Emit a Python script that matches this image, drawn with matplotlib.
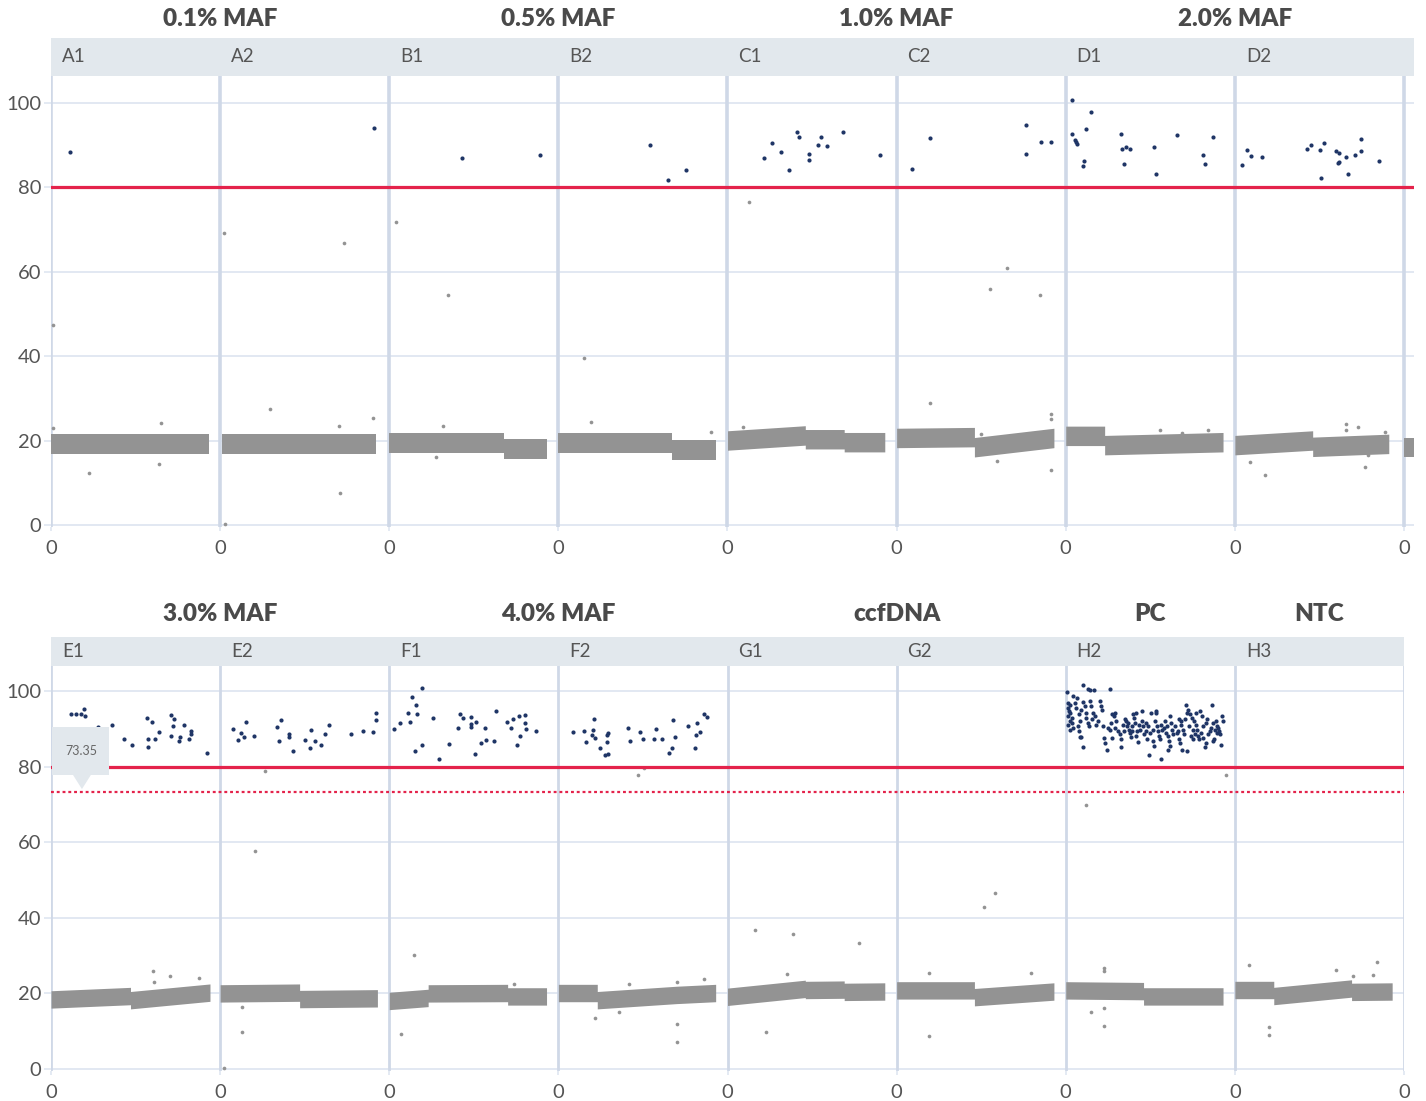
import matplotlib
matplotlib.use("Agg")
import matplotlib.pyplot as plt
from matplotlib.patches import Rectangle, Polygon

plt.rcParams["font.family"] = ["Lato", "DejaVu Sans"]

# ---------------- wells and groups ----------------
top_wells = ["A1", "A2", "B1", "B2", "C1", "C2", "D1", "D2"]
bottom_wells = ["E1", "E2", "F1", "F2", "G1", "G2", "H2", "H3"]

top_groups = ["0.1% MAF", "0.5% MAF", "1.0% MAF", "2.0% MAF"]
top_group_wells = [["A1", "A2"], ["B1", "B2"], ["C1", "C2"], ["D1", "D2"]]
bottom_groups = ["3.0% MAF", "4.0% MAF", "ccfDNA", "PC", "NTC"]
bottom_group_wells = [["E1", "E2"], ["F1", "F2"], ["G1", "G2"], ["H2"], ["H3"]]

threshold = 80
marker_value = 73.35
y_ticks = [0, 20, 40, 60, 80, 100]

# ---------------- positive droplets (position within well, amplitude) ----------------
pos_A1 = [(0.112, 88.3)]
pos_A2 = [(0.911, 94.0)]
pos_B1 = [(0.430, 86.9), (0.893, 87.6)]
pos_B2 = [(0.540, 89.9), (0.650, 81.7), (0.757, 84.0)]
pos_C1 = [(0.215, 86.9), (0.264, 90.3), (0.314, 88.4), (0.361, 84.0), (0.410, 92.9),
          (0.420, 91.8), (0.479, 87.8), (0.479, 86.3), (0.536, 89.9), (0.550, 91.8),
          (0.586, 89.8), (0.682, 92.9), (0.901, 87.6)]
pos_C2 = [(0.090, 84.2), (0.195, 91.5), (0.763, 94.7), (0.763, 87.7), (0.856, 90.6),
          (0.915, 90.7)]
pos_D1 = [(0.037, 100.7), (0.150, 97.7), (0.036, 92.5), (0.117, 93.7), (0.057, 91.1),
          (0.063, 90.6), (0.067, 90.2), (0.108, 86.1), (0.102, 85.0), (0.324, 92.6),
          (0.333, 89.1), (0.359, 89.4), (0.379, 88.9), (0.347, 85.4), (0.522, 89.5),
          (0.534, 83.0), (0.657, 92.3), (0.811, 87.5), (0.826, 85.5), (0.872, 91.9)]
pos_D2 = [(0.041, 85.2), (0.071, 88.8), (0.093, 87.3), (0.160, 87.1), (0.428, 89.1),
          (0.450, 89.9), (0.503, 88.8), (0.528, 90.3), (0.509, 82.1), (0.600, 88.5),
          (0.613, 88.0), (0.611, 85.6), (0.617, 85.8), (0.657, 87.2), (0.667, 83.0),
          (0.712, 87.6), (0.744, 91.4), (0.744, 88.6), (0.850, 86.2)]

pos_E1 = [(0.116, 94.0), (0.146, 94.0), (0.178, 94.0), (0.197, 95.3), (0.203, 93.5),
          (0.276, 90.4), (0.359, 90.9), (0.430, 87.4), (0.477, 85.7), (0.568, 92.9),
          (0.600, 91.7), (0.572, 87.2), (0.572, 85.2), (0.617, 87.2), (0.641, 89.2),
          (0.712, 93.7), (0.728, 92.5), (0.724, 90.7), (0.712, 88.0), (0.765, 87.7),
          (0.755, 86.7), (0.789, 90.9), (0.817, 87.4), (0.827, 89.3), (0.828, 88.7),
          (0.921, 83.5)]
pos_E2 = [(0.077, 90.0), (0.107, 87.1), (0.122, 88.9), (0.140, 87.9), (0.152, 91.7),
          (0.200, 88.1), (0.335, 90.6), (0.359, 92.4), (0.347, 86.7), (0.406, 88.7),
          (0.406, 87.8), (0.428, 84.2), (0.501, 87.1), (0.531, 85.0), (0.540, 89.7),
          (0.560, 86.9), (0.596, 85.6), (0.623, 88.5), (0.641, 91.1), (0.771, 88.6),
          (0.842, 89.5), (0.901, 89.1), (0.921, 94.1), (0.921, 92.3)]
pos_F1 = [(0.030, 90.0), (0.065, 91.6), (0.108, 94.2), (0.132, 98.3), (0.158, 96.2),
          (0.167, 94.0), (0.193, 100.8), (0.122, 91.9), (0.152, 84.2), (0.193, 85.6),
          (0.260, 92.8), (0.296, 82.1), (0.355, 86.1), (0.404, 90.2), (0.416, 93.8),
          (0.438, 92.8), (0.481, 93.2), (0.483, 91.3), (0.481, 90.5), (0.513, 91.9),
          (0.509, 83.4), (0.542, 86.3), (0.566, 90.1), (0.574, 87.1), (0.621, 86.8),
          (0.631, 94.7), (0.698, 91.7), (0.718, 90.2), (0.730, 92.6), (0.765, 93.5),
          (0.800, 93.6), (0.800, 91.5), (0.810, 89.9), (0.771, 88.2), (0.757, 85.6),
          (0.866, 89.4)]
pos_F2 = [(0.085, 89.1), (0.150, 89.5), (0.164, 86.4), (0.199, 88.4), (0.205, 89.6),
          (0.209, 92.6), (0.217, 87.6), (0.247, 84.9), (0.274, 83.1), (0.294, 83.4),
          (0.288, 88.4), (0.294, 88.9), (0.290, 86.6), (0.412, 90.3), (0.422, 86.9),
          (0.481, 89.1), (0.501, 87.2), (0.564, 87.2), (0.576, 89.9), (0.615, 87.4),
          (0.655, 83.5), (0.669, 84.9), (0.680, 92.4), (0.688, 87.8), (0.765, 90.7),
          (0.807, 84.9), (0.811, 88.4), (0.818, 91.6), (0.836, 89.2), (0.862, 94.0),
          (0.877, 93.2)]
pos_G1 = []
pos_G2 = []
pos_H2 = [(0.008, 99.8), (0.016, 96.9), (0.012, 95.5), (0.024, 96.4), (0.020, 94.7),
          (0.028, 94.2), (0.014, 93.3), (0.034, 92.9), (0.024, 92.0), (0.014, 91.1),
          (0.036, 91.6), (0.043, 90.2), (0.028, 89.8), (0.043, 98.8), (0.053, 96.9),
          (0.063, 95.5), (0.067, 98.2), (0.079, 93.8), (0.083, 92.0), (0.073, 90.7),
          (0.079, 89.4), (0.083, 87.9), (0.093, 87.9), (0.103, 85.2), (0.093, 95.1),
          (0.103, 97.0), (0.112, 96.0), (0.118, 94.2), (0.122, 92.9), (0.132, 91.6),
          (0.138, 90.7), (0.103, 101.7), (0.134, 100.6), (0.142, 100.2), (0.168, 100.2),
          (0.142, 97.3), (0.152, 96.0), (0.162, 94.2), (0.158, 92.5), (0.172, 93.3),
          (0.181, 91.1), (0.191, 92.0), (0.201, 97.3), (0.211, 96.0), (0.217, 95.1),
          (0.221, 90.7), (0.260, 100.6), (0.227, 87.6), (0.231, 86.3), (0.241, 84.3),
          (0.250, 90.2), (0.260, 89.8), (0.270, 91.6), (0.276, 93.8), (0.284, 93.3),
          (0.290, 94.2), (0.276, 87.6), (0.290, 90.2), (0.300, 92.0), (0.310, 89.4),
          (0.320, 88.5), (0.325, 85.2), (0.329, 87.2), (0.339, 91.1), (0.343, 89.4),
          (0.349, 92.5), (0.355, 92.0), (0.363, 90.7), (0.369, 91.6), (0.375, 89.8),
          (0.379, 88.9), (0.383, 87.9), (0.389, 89.4), (0.394, 90.7), (0.398, 93.8),
          (0.404, 92.9), (0.408, 91.6), (0.414, 94.2), (0.418, 88.0), (0.422, 89.4),
          (0.428, 86.4), (0.434, 91.1), (0.438, 89.6), (0.448, 94.7), (0.450, 92.0),
          (0.458, 90.7), (0.462, 88.5), (0.473, 91.6), (0.477, 89.4), (0.481, 87.3),
          (0.487, 90.7), (0.493, 83.2), (0.497, 88.9), (0.507, 94.2), (0.513, 89.8),
          (0.517, 86.7), (0.521, 85.4), (0.527, 92.0), (0.533, 94.2), (0.536, 94.6),
          (0.540, 90.7), (0.546, 89.4), (0.552, 88.0), (0.556, 87.2), (0.562, 82.0),
          (0.566, 91.1), (0.572, 89.8), (0.580, 90.2), (0.586, 92.0), (0.592, 88.9),
          (0.596, 90.7), (0.602, 88.0), (0.607, 84.5), (0.611, 86.7), (0.615, 93.3),
          (0.619, 85.4), (0.625, 91.6), (0.631, 89.6), (0.635, 88.5), (0.645, 90.7),
          (0.655, 88.9), (0.661, 89.4), (0.667, 92.5), (0.671, 87.2), (0.675, 86.3),
          (0.679, 91.1), (0.684, 92.0), (0.690, 84.5), (0.694, 89.8), (0.698, 88.5),
          (0.704, 92.5), (0.710, 96.4), (0.714, 94.2), (0.718, 84.1), (0.724, 95.1),
          (0.730, 90.7), (0.734, 93.8), (0.738, 88.0), (0.744, 92.9), (0.750, 89.8),
          (0.753, 87.2), (0.757, 92.0), (0.763, 88.5), (0.769, 94.2), (0.773, 91.1),
          (0.777, 89.8), (0.783, 88.0), (0.789, 87.2), (0.793, 94.7), (0.797, 88.9),
          (0.803, 93.3), (0.809, 87.6), (0.813, 90.7), (0.822, 85.2), (0.828, 86.3),
          (0.832, 91.6), (0.838, 92.5), (0.844, 88.5), (0.852, 89.4), (0.858, 90.2),
          (0.864, 96.4), (0.868, 86.7), (0.872, 91.6), (0.876, 87.2), (0.882, 89.8),
          (0.888, 92.0), (0.892, 88.9), (0.897, 90.7), (0.901, 90.2), (0.907, 89.4),
          (0.911, 88.5), (0.917, 85.8), (0.923, 93.3), (0.927, 92.0)]
pos_H3 = []

# ---------------- scattered negative / rain droplets ----------------
out_A1 = [(0.012, 47.3), (0.014, 22.9), (0.227, 12.4), (0.650, 24.1), (0.636, 14.4)]
out_A2 = [(0.024, 69.1), (0.734, 66.7), (0.296, 27.5), (0.706, 7.6), (0.700, 23.5),
          (0.902, 25.3), (0.030, 0.2)]
out_B1 = [(0.040, 71.7), (0.350, 54.4), (0.315, 23.5), (0.276, 16.0)]
out_B2 = [(0.154, 39.5), (0.190, 24.4), (0.900, 22.1)]
out_C1 = [(0.126, 76.5), (0.090, 23.1)]
out_C2 = [(0.195, 28.9), (0.550, 55.9), (0.650, 60.8), (0.846, 54.4), (0.910, 26.2),
          (0.910, 25.1), (0.910, 13.0), (0.496, 21.5), (0.596, 15.2)]
out_D1 = [(0.560, 22.5), (0.690, 21.7), (0.840, 22.6)]
out_D2 = [(0.090, 15.0), (0.178, 11.8), (0.660, 23.8), (0.660, 22.5), (0.730, 23.1),
          (0.770, 13.8), (0.790, 16.6), (0.890, 21.9)]

out_E1 = [(0.603, 26.0), (0.610, 22.9), (0.706, 24.6), (0.877, 24.2)]
out_E2 = [(0.266, 78.9), (0.207, 57.7), (0.128, 9.9), (0.128, 16.5), (0.020, 0.3)]
out_F1 = [(0.146, 30.2), (0.067, 9.3), (0.740, 22.4)]
out_F2 = [(0.469, 77.8), (0.509, 79.7), (0.219, 13.6), (0.418, 22.4), (0.703, 11.8),
          (0.703, 7.2), (0.700, 23.0), (0.860, 23.8), (0.360, 15.0)]
out_G1 = [(0.227, 9.7), (0.351, 25.1), (0.775, 33.4), (0.160, 36.8), (0.390, 35.8)]
out_G2 = [(0.191, 8.6), (0.514, 42.9), (0.580, 46.6), (0.795, 25.3), (0.190, 25.4)]
out_H2 = [(0.118, 69.9), (0.947, 77.9), (0.227, 26.7), (0.227, 25.8), (0.227, 16.1),
          (0.227, 11.5), (0.151, 15.2)]
out_H3 = [(0.082, 27.5), (0.200, 11.2), (0.200, 9.0), (0.597, 26.2), (0.700, 24.6),
          (0.816, 25.0), (0.838, 28.4)]

# ---------------- negative cluster centre line (position within well, amplitude) ----------------
neg_A1 = [(0.00, 19.2), (0.935, 19.2)]
neg_A2 = [(0.01, 19.2), (0.92, 19.2)]
neg_B1 = [(0.00, 19.4), (0.68, 19.4), (0.68, 18.0), (0.93, 18.0)]
neg_B2 = [(0.00, 19.4), (0.67, 19.4), (0.67, 17.8), (0.93, 17.8)]
neg_C1 = [(0.00, 20.0), (0.46, 21.2), (0.46, 20.3), (0.69, 20.3), (0.69, 19.6), (0.93, 19.6)]
neg_C2 = [(0.00, 20.6), (0.46, 20.8), (0.46, 18.4), (0.93, 20.6)]
neg_D1 = [(0.00, 21.1), (0.23, 21.1), (0.23, 18.9), (0.93, 19.6)]
neg_D2 = [(0.00, 18.9), (0.46, 20.0), (0.46, 18.5), (0.91, 19.2)]
neg_next = [(0.00, 18.3), (0.06, 18.3)]

neg_E1 = [(0.00, 18.4), (0.47, 19.3), (0.47, 18.2), (0.94, 20.2)]
neg_E2 = [(0.00, 20.0), (0.47, 20.2), (0.47, 18.5), (0.93, 18.7)]
neg_F1 = [(0.00, 18.0), (0.23, 18.8), (0.23, 20.0), (0.70, 20.1), (0.70, 19.2), (0.93, 19.2)]
neg_F2 = [(0.00, 20.1), (0.23, 20.1), (0.23, 18.2), (0.70, 19.6), (0.93, 20.1)]
neg_G1 = [(0.00, 19.1), (0.46, 21.2), (0.46, 20.9), (0.69, 21.0), (0.69, 20.4), (0.93, 20.5)]
neg_G2 = [(0.00, 20.8), (0.46, 20.8), (0.46, 19.0), (0.93, 20.5)]
neg_H2 = [(0.00, 20.8), (0.46, 20.6), (0.46, 19.2), (0.93, 19.2)]
neg_H3 = [(0.00, 20.9), (0.23, 20.9), (0.23, 19.3), (0.69, 21.3), (0.69, 20.4), (0.93, 20.5)]

positives = {"A1": pos_A1, "A2": pos_A2, "B1": pos_B1, "B2": pos_B2, "C1": pos_C1,
             "C2": pos_C2, "D1": pos_D1, "D2": pos_D2, "E1": pos_E1, "E2": pos_E2,
             "F1": pos_F1, "F2": pos_F2, "G1": pos_G1, "G2": pos_G2, "H2": pos_H2,
             "H3": pos_H3}
rain = {"A1": out_A1, "A2": out_A2, "B1": out_B1, "B2": out_B2, "C1": out_C1,
        "C2": out_C2, "D1": out_D1, "D2": out_D2, "E1": out_E1, "E2": out_E2,
        "F1": out_F1, "F2": out_F2, "G1": out_G1, "G2": out_G2, "H2": out_H2,
        "H3": out_H3}
negatives = {"A1": neg_A1, "A2": neg_A2, "B1": neg_B1, "B2": neg_B2, "C1": neg_C1,
             "C2": neg_C2, "D1": neg_D1, "D2": neg_D2, "E1": neg_E1, "E2": neg_E2,
             "F1": neg_F1, "F2": neg_F2, "G1": neg_G1, "G2": neg_G2, "H2": neg_H2,
             "H3": neg_H3}

# ---------------- styling ----------------
NAVY = "#1f3566"
GREY = "#939393"
RED = "#e4234b"
GRID = "#dfe6f1"
VLINE = "#cfd8e7"
HEADER = "#e2e8ed"
TEXT = "#4a4a4a"
TICK = "#555555"
CORE_HALF = 2.3

W, H = 1426, 1101
fig = plt.figure(figsize=(W / 100, H / 100), dpi=100)


def fx(px):
    return px / W


def fy(py):
    return 1 - py / H


def draw_band(ax, nodes, offset):
    xs = [offset + f for f, _ in nodes]
    lo = [v - CORE_HALF for _, v in nodes]
    hi = [v + CORE_HALF for _, v in nodes]
    ax.fill_between(xs, lo, hi, color=GREY, lw=0, zorder=2)


def build_panel(left_px, right_px, head_top, head_bot, ax_bot, ylim, xmax,
                wells, groups, group_wells, title_y, vline_w):
    # header strip with well names
    hax = fig.add_axes([fx(left_px), fy(head_bot), fx(right_px - left_px),
                        (head_bot - head_top) / H])
    hax.set_xlim(0, xmax)
    hax.set_ylim(0, 1)
    hax.set_facecolor(HEADER)
    hax.set_xticks([])
    hax.set_yticks([])
    for s in hax.spines.values():
        s.set_visible(False)
    for i, w in enumerate(wells):
        hax.text(i + 0.065, 0.5, w, ha="left", va="center", fontsize=13.5,
                 color=TICK)

    # group titles
    for g, gw in zip(groups, group_wells):
        idx = [wells.index(w) for w in gw]
        centre = (min(idx) + max(idx) + 1) / 2
        xfig = fx(left_px) + centre / xmax * fx(right_px - left_px)
        fig.text(xfig, fy(title_y), g, ha="center", va="center",
                 fontsize=17.5, fontweight="heavy", color=TEXT)

    ax = fig.add_axes([fx(left_px), fy(ax_bot), fx(right_px - left_px),
                       (ax_bot - head_bot) / H])
    ax.set_xlim(0, xmax)
    ax.set_ylim(*ylim)
    for s in ax.spines.values():
        s.set_visible(False)
    for y in y_ticks:
        ax.axhline(y, color=GRID, lw=1.3, zorder=0)
    for i in range(len(wells) + 1):
        ax.axvline(i, color=VLINE, lw=vline_w, zorder=1)

    for i, w in enumerate(wells):
        draw_band(ax, negatives[w], i)
        r = rain[w]
        if r:
            ax.scatter([i + f for f, _ in r], [v for _, v in r], s=7,
                       color=GREY, lw=0, zorder=3)
        p = positives[w]
        if p:
            ax.scatter([i + f for f, _ in p], [v for _, v in p], s=9,
                       color=NAVY, lw=0, zorder=4)

    ax.axhline(threshold, color=RED, lw=2.3, zorder=5)

    ax.set_yticks(y_ticks)
    ax.set_yticklabels([str(t) for t in y_ticks])
    ax.set_xticks(range(len(wells) + 1))
    ax.set_xticklabels(["0"] * (len(wells) + 1))
    ax.tick_params(axis="y", length=5, width=1.2, color=GRID, pad=2,
                   labelsize=14.5, labelcolor=TICK)
    ax.tick_params(axis="x", length=3, width=1.2, color=GRID, pad=6,
                   labelsize=14.5, labelcolor=TICK)
    return ax


# top panel: A1..D2
top_scale = (525 - 102.5) / 100.0
top_ylim = (-(527 - 525) / top_scale, (525 - 76) / top_scale)
top_xmax = 8 + (1414 - 1404) / 169.1
ax_top = build_panel(51, 1414, 38, 76, 527, top_ylim, top_xmax, top_wells,
                     top_groups, top_group_wells, 19, 2.6)
draw_band(ax_top, neg_next, 8)

# bottom panel: E1..H3
bot_scale = (1069 - 691) / 100.0
bot_ylim = (-(1071 - 1069) / bot_scale, (1069 - 666) / bot_scale)
ax_bot = build_panel(51, 1404, 637, 666, 1071, bot_ylim, 8.0, bottom_wells,
                     bottom_groups, bottom_group_wells, 614, 2.0)

# manual threshold marker with its tooltip
ax_bot.axhline(marker_value, color=RED, lw=1.6, linestyle=(0, (1.3, 1.3)),
               zorder=5)
box_lo, box_hi = 77.8, 90.4
ax_bot.add_patch(Rectangle((0.006, box_lo), 0.337, box_hi - box_lo,
                           facecolor=HEADER, edgecolor="none", zorder=7))
ax_bot.add_patch(Polygon([(0.130, box_lo), (0.236, box_lo),
                          (0.183, marker_value + 0.7)], closed=True,
                         facecolor=HEADER, edgecolor="none", zorder=7))
ax_bot.text(0.178, (box_lo + box_hi) / 2, f"{marker_value:.2f}", ha="center",
            va="center", fontsize=9, color="#666666", zorder=8)

fig.savefig("out.png", dpi=100, facecolor="white")
